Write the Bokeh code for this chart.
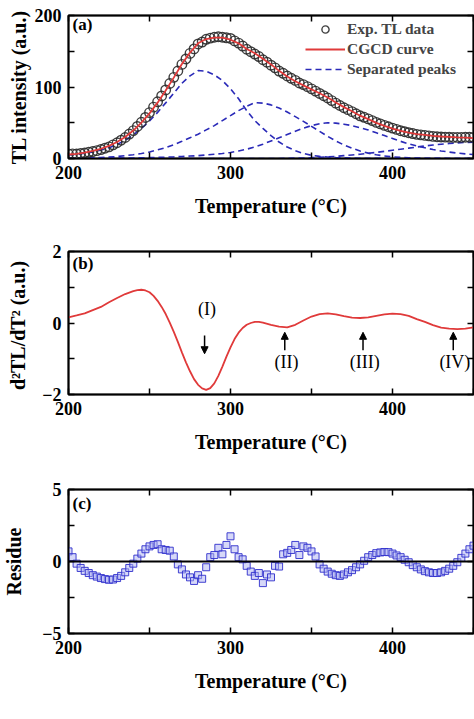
from bokeh.plotting import figure
from bokeh.models import (LinearAxis, FixedTicker, Label, Arrow, NormalHead, Legend,
                          LegendItem, Span, Range1d, ColumnDataSource)
from bokeh.layouts import column
from bokeh.embed import file_html
from bokeh.resources import INLINE

SERIF = "Liberation Serif"

# ---------------- data ----------------
# temperature grid (5 degC) for fitted curves
temp5 = [200, 205, 210, 215, 220, 225, 230, 235, 240, 245, 250, 255, 260, 265, 270, 275,
         280, 285, 290, 295, 300, 305, 310, 315, 320, 325, 330, 335, 340, 345, 350, 355,
         360, 365, 370, 375, 380, 385, 390, 395, 400, 405, 410, 415, 420, 425, 430, 435,
         440, 445, 450]

cgcd = [5.6, 6.5, 8.3, 10.6, 13.6, 17.6, 23.1, 30.1, 39.1, 50.1, 63.1, 78.1, 95.1, 113.1,
        132.1, 148.1, 161.1, 167.1, 169.1, 169.1, 166.1, 161.1, 153.1, 147.1, 139.6, 131.6,
        122.6, 114.8, 108.0, 102.3, 96.7, 91.2, 85.3, 78.3, 71.9, 66.1, 59.9, 55.1, 49.9,
        45.6, 41.9, 38.6, 36.1, 34.2, 33.0, 31.7, 30.8, 30.2, 29.5, 29.1, 28.5]

peak1 = [5.0, 5.8, 7.3, 9.3, 11.8, 15.1, 19.7, 25.5, 32.9, 42.0, 52.6, 64.5, 77.8, 91.4,
         105.2, 115.6, 123.0, 122.0, 117.0, 109.0, 97.5, 83.5, 67.0, 53.0, 42.0, 32.0, 23.0,
         16.0, 11.0, 7.0, 4.5, 3.0, 2.0, 1.3, 0.9, 0.6, 0.4, 0.3, 0.2, 0.1, 0.1, 0.1, 0.1,
         0.1, 0.1, 0.1, 0.1, 0.1, 0.1, 0.1, 0.1]

peak2 = [0.4, 0.5, 0.7, 1.0, 1.4, 2.0, 2.8, 3.9, 5.3, 7.0, 9.2, 12.0, 15.3, 19.3, 24.0,
         29.0, 34.0, 40.0, 46.0, 53.0, 60.0, 67.0, 73.0, 78.0, 77.5, 75.0, 70.5, 65.0, 58.5,
         52.0, 45.0, 38.0, 31.0, 24.5, 19.0, 14.5, 10.5, 7.5, 5.2, 3.5, 2.3, 1.5, 1.0, 0.6,
         0.4, 0.3, 0.2, 0.1, 0.1, 0.1, 0.1]

peak3 = [0.1, 0.1, 0.2, 0.2, 0.3, 0.4, 0.5, 0.6, 0.8, 1.0, 1.2, 1.5, 1.9, 2.3, 2.8, 3.4,
         4.0, 5.0, 6.0, 7.0, 8.5, 10.5, 13.0, 16.0, 20.0, 24.5, 29.0, 33.5, 38.0, 42.5, 46.0,
         48.5, 50.0, 49.5, 48.0, 46.0, 43.0, 40.0, 36.0, 32.0, 28.0, 24.0, 20.5, 17.5, 15.0,
         12.5, 10.5, 9.0, 7.5, 6.5, 5.5]

peak4 = [0.1, 0.1, 0.1, 0.1, 0.1, 0.1, 0.1, 0.1, 0.1, 0.1, 0.1, 0.1, 0.1, 0.1, 0.1, 0.1,
         0.1, 0.1, 0.1, 0.1, 0.1, 0.1, 0.1, 0.1, 0.1, 0.1, 0.1, 0.3, 0.5, 0.8, 1.2, 1.7,
         2.3, 3.0, 4.0, 5.0, 6.0, 7.3, 8.5, 10.0, 11.5, 13.0, 14.5, 16.0, 17.5, 18.8, 20.0,
         21.0, 21.8, 22.4, 22.8]

# second derivative (finer sampling through the deep valley)
temp_d2 = [200, 205, 210, 215, 220, 225, 230, 235, 240, 242.5, 245, 247.5, 250, 252.5, 255,
           257.5, 260, 262.5, 265, 267.5, 270, 272.5, 275, 277.5, 280, 282.5, 285, 287.5,
           290, 292.5, 295, 297.5, 300, 302.5, 305, 307.5, 310, 312.5, 315, 317.5, 320, 325,
           330, 335, 340, 345, 350, 355, 360, 365, 370, 375, 380, 385, 390, 395, 400, 405,
           410, 415, 420, 425, 430, 435, 440, 445, 450]
d2tl = [0.16, 0.21, 0.27, 0.36, 0.45, 0.58, 0.70, 0.81, 0.89, 0.92, 0.93, 0.91, 0.86, 0.76,
        0.62, 0.45, 0.25, 0.01, -0.25, -0.53, -0.82, -1.10, -1.35, -1.57, -1.73, -1.83,
        -1.87, -1.82, -1.69, -1.48, -1.22, -0.94, -0.68, -0.45, -0.27, -0.14, -0.05, 0.00,
        0.03, 0.03, 0.01, -0.05, -0.10, -0.12, -0.05, 0.07, 0.18, 0.25, 0.27, 0.24, 0.19,
        0.15, 0.14, 0.16, 0.20, 0.24, 0.26, 0.25, 0.20, 0.11, 0.03, -0.06, -0.13, -0.16,
        -0.17, -0.16, -0.12]

# experimental data and residue on a 2.5 degC grid
temp_exp = [200.0, 202.5, 205.0, 207.5, 210.0, 212.5, 215.0, 217.5, 220.0, 222.5, 225.0,
            227.5, 230.0, 232.5, 235.0, 237.5, 240.0, 242.5, 245.0, 247.5, 250.0, 252.5,
            255.0, 257.5, 260.0, 262.5, 265.0, 267.5, 270.0, 272.5, 275.0, 277.5, 280.0,
            282.5, 285.0, 287.5, 290.0, 292.5, 295.0, 297.5, 300.0, 302.5, 305.0, 307.5,
            310.0, 312.5, 315.0, 317.5, 320.0, 322.5, 325.0, 327.5, 330.0, 332.5, 335.0,
            337.5, 340.0, 342.5, 345.0, 347.5, 350.0, 352.5, 355.0, 357.5, 360.0, 362.5,
            365.0, 367.5, 370.0, 372.5, 375.0, 377.5, 380.0, 382.5, 385.0, 387.5, 390.0,
            392.5, 395.0, 397.5, 400.0, 402.5, 405.0, 407.5, 410.0, 412.5, 415.0, 417.5,
            420.0, 422.5, 425.0, 427.5, 430.0, 432.5, 435.0, 437.5, 440.0, 442.5, 445.0,
            447.5, 450.0]

exp_tl = [6.3, 6.4, 6.3, 7.0, 7.7, 8.7, 9.7, 11.0, 12.5, 14.4, 16.3, 19.1, 22.0, 25.6,
          29.4, 34.2, 39.0, 44.8, 50.7, 57.4, 64.2, 71.8, 79.3, 87.5, 95.9, 104.9, 113.5,
          122.4, 131.6, 139.2, 147.0, 153.3, 160.2, 162.9, 166.7, 168.4, 169.6, 170.3, 169.6,
          168.8, 167.9, 164.5, 161.4, 157.3, 152.8, 149.4, 146.1, 142.6, 138.1, 134.7, 130.5,
          126.8, 122.3, 119.2, 115.4, 112.2, 109.2, 105.6, 103.4, 100.5, 97.4, 94.3, 91.0,
          87.8, 84.6, 81.0, 77.4, 74.1, 71.0, 68.3, 65.5, 62.6, 59.7, 57.6, 55.4, 53.0, 50.5,
          48.4, 46.3, 44.4, 42.5, 40.7, 38.9, 37.5, 36.1, 34.9, 33.8, 33.1, 32.3, 31.6, 30.9,
          30.5, 30.1, 29.9, 29.7, 29.6, 29.5, 29.6, 29.7, 29.7, 29.6]

residue = [0.7, 0.3, -0.15, -0.45, -0.65, -0.8, -0.95, -1.05, -1.15, -1.22, -1.27, -1.25,
           -1.15, -1.0, -0.75, -0.45, -0.15, 0.2, 0.55, 0.85, 1.05, 1.15, 1.2, 0.85, 0.8,
           0.75, 0.35, -0.2, -0.55, -0.9, -1.1, -1.35, -0.95, -1.2, -0.4, 0.3, 0.45, 0.95,
           0.5, 1.15, 1.75, 0.85, 0.3, 0.15, -0.3, -0.7, -1.0, -0.8, -1.5, -0.9, -1.1, -0.3,
           -0.35, 0.5, 0.6, 0.8, 1.15, 0.45, 1.05, 0.95, 0.7, 0.35, -0.2, -0.5, -0.7, -0.85,
           -0.95, -1.0, -0.9, -0.75, -0.6, -0.4, -0.2, 0.05, 0.3, 0.45, 0.58, 0.63, 0.66,
           0.65, 0.55, 0.42, 0.3, 0.12, -0.05, -0.25, -0.4, -0.55, -0.67, -0.75, -0.8, -0.8,
           -0.75, -0.65, -0.5, -0.3, -0.05, 0.25, 0.55, 0.85, 1.1]

# axis ticks: labelled (major) and unlabelled (minor) positions
x_major, x_minor = [200, 300, 400], [250, 350, 450]
ya_major, ya_minor = [0, 100, 200], [50, 150]
yb_major, yb_minor = [-2, 0, 2], [-1, 1]
yc_major, yc_minor = [-5, 0, 5], [-2.5, 2.5]

# peak markers in panel (b): (label, temperature)
markers_b = [("(II)", 333.5), ("(III)", 381.8), ("(IV)", 437.5)]

RED = "#e03a3a"
BLUE = "#2a2ab8"


def tick_style(ax):
    ax.major_tick_in = 6
    ax.major_tick_out = 0
    ax.minor_tick_in = 6
    ax.minor_tick_out = 0
    ax.major_tick_line_width = 1.5
    ax.minor_tick_line_width = 1.5
    ax.major_tick_line_color = "black"
    ax.minor_tick_line_color = "black"
    ax.axis_line_color = "black"
    ax.axis_line_width = 1.5


def make_fig(height, yr, ymaj, ymin, ylabel, border_top, border_bottom, ylab_standoff):
    p = figure(width=474, height=height, x_range=Range1d(200, 450), y_range=Range1d(*yr),
               output_backend="svg", toolbar_location=None,
               min_border_left=66, min_border_right=1, min_border_top=border_top,
               min_border_bottom=border_bottom)
    p.grid.visible = False
    p.outline_line_color = "black"
    p.outline_line_width = 2

    for ax, maj, mn in [(p.xaxis[0], x_major, x_minor), (p.yaxis[0], ymaj, ymin)]:
        ax.ticker = FixedTicker(ticks=maj, minor_ticks=mn)
        tick_style(ax)
        ax.major_label_text_font = SERIF
        ax.major_label_text_font_style = "bold"
        ax.major_label_text_font_size = "18px"
        ax.major_label_text_color = "black"
        ax.major_label_standoff = 7
        ax.axis_label_text_font = SERIF
        ax.axis_label_text_font_style = "bold"
        ax.axis_label_text_font_size = "20px"
        ax.axis_label_text_color = "black"
    p.xaxis[0].axis_label = "Temperature (\u00b0C)"
    p.xaxis[0].axis_label_standoff = 13
    p.yaxis[0].axis_label = ylabel
    p.yaxis[0].axis_label_standoff = ylab_standoff

    # mirrored tick marks (no labels) on top and right
    top = LinearAxis(ticker=FixedTicker(ticks=[], minor_ticks=x_major + x_minor))
    tick_style(top)
    p.add_layout(top, "above")
    right = LinearAxis(ticker=FixedTicker(ticks=[], minor_ticks=ymaj + ymin))
    tick_style(right)
    p.add_layout(right, "right")
    return p


def panel_label(p, x, y, text):
    p.add_layout(Label(x=x, y=y, text=text, text_font=SERIF, text_font_style="bold",
                       text_font_size="17px", text_baseline="middle", text_color="black"))


# ---------------- panel (a) ----------------
pa = make_fig(230, (0, 200), ya_major, ya_minor, "TL intensity (a.u.)", 15, 72, 2)
src_fit = ColumnDataSource(dict(t=temp5, fit=cgcd, p1=peak1, p2=peak2, p3=peak3, p4=peak4))
src_exp = ColumnDataSource(dict(t=temp_exp, y=exp_tl, r=residue))

dash_rs = []
for col in ["p1", "p2", "p3", "p4"]:
    dash_rs.append(pa.line("t", col, source=src_fit, line_color=BLUE, line_width=1.6,
                           line_dash="6 4"))
r_exp = pa.scatter("t", "y", source=src_exp, marker="circle", size=9.5, fill_color=None,
                   line_color="#2a2a2a", line_width=1.4, line_alpha=0.9)
r_fit = pa.line("t", "fit", source=src_fit, line_color=RED, line_width=1.8)

leg = Legend(items=[LegendItem(label="Exp. TL data", renderers=[r_exp]),
                    LegendItem(label="CGCD curve", renderers=[r_fit]),
                    LegendItem(label="Separated peaks", renderers=[dash_rs[0]])],
             location=(235, 78), glyph_width=40, glyph_height=18, label_height=18,
             spacing=2, padding=2, margin=0, label_standoff=2,
             label_text_font=SERIF, label_text_font_style="bold",
             label_text_line_height=0.9,
             label_text_font_size="15.5px", border_line_alpha=0, background_fill_alpha=0)
pa.add_layout(leg)
panel_label(pa, 202.5, 187, "(a)")

# ---------------- panel (b) ----------------
pb = make_fig(238, (-2, 2), yb_major, yb_minor, "d\u00b2TL/dT\u00b2  (a.u.)", 21, 74, 10)
pb.line(temp_d2, d2tl, line_color=RED, line_width=1.8)
panel_label(pb, 202.5, 1.66, "(b)")

pb.add_layout(Label(x=285.5, y=0.4, text="(I)", text_font=SERIF, text_font_size="18px",
                    text_align="center", text_baseline="middle", text_color="black"))
pb.add_layout(Arrow(x_start=284, y_start=-0.35, x_end=284, y_end=-0.86,
                    line_color="black", line_width=1.5,
                    end=NormalHead(size=7, fill_color="black", line_color="black")))
for lab, tx in markers_b:
    pb.add_layout(Arrow(x_start=tx, y_start=-0.76, x_end=tx, y_end=-0.26,
                        line_color="black", line_width=1.5,
                        end=NormalHead(size=7, fill_color="black", line_color="black")))
    pb.add_layout(Label(x=tx + 1, y=-1.08, text=lab, text_font=SERIF, text_font_size="18px",
                        text_align="center", text_baseline="middle", text_color="black"))

# ---------------- panel (c) ----------------
pc = make_fig(250, (-5, 5), yc_major, yc_minor, "Residue", 21, 85, 14)
pc.scatter("t", "r", source=src_exp, marker="square", size=7, fill_color="#aeb2f2",
           fill_alpha=0.5, line_color="#2f2fcc", line_width=1, line_alpha=0.9)
pc.add_layout(Span(location=0, dimension="width", line_color="black", line_width=2))
panel_label(pc, 202.5, 4.0, "(c)")

layout = column(pa, pb, pc, spacing=0)
open("out.html", "w").write(file_html(layout, INLINE))
